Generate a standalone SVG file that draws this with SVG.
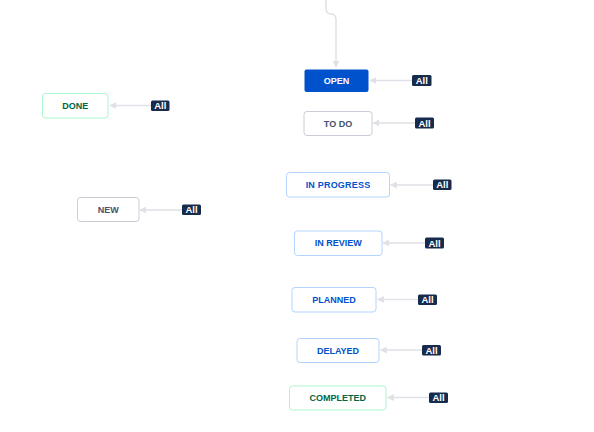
<svg xmlns="http://www.w3.org/2000/svg" width="594" height="432" viewBox="0 0 594 432">
<style>
.n{stroke-width:1;rx:3;ry:3}
.g{fill:#fff;stroke:#C9CED6}
.b{fill:#fff;stroke:#B3D4FF}
.gr{fill:#fff;stroke:#ABF5D1}
.t{font-family:"Liberation Sans",Arial,sans-serif;font-size:9px;font-weight:bold;text-anchor:middle;dominant-baseline:central}
.tg{fill:#42526E}.tb{fill:#0052CC}.tgr{fill:#006644}
.badge{fill:#172B4D}
.bt{font-family:"Liberation Sans",Arial,sans-serif;font-size:9.5px;font-weight:bold;fill:#fff;text-anchor:middle;dominant-baseline:central}
.c{stroke:#DFE1E6;stroke-width:1.5;fill:none}
</style>
<defs>
<marker id="ah" viewBox="0 0 10 10" refX="9" refY="5" markerWidth="7" markerHeight="7" markerUnits="userSpaceOnUse" orient="auto">
<path d="M0,0L10,5L0,10z" fill="#DFE1E6"/>
</marker>
</defs>
<g id="connectors">
<path class="c" d="M326,0V8Q326,14 331,14Q336,14 336,20V67" marker-end="url(#ah)"/>
<path class="c" d="M412,80.5H370" marker-end="url(#ah)"/>
<path class="c" d="M415,123H373" marker-end="url(#ah)"/>
<path class="c" d="M151,105.5H110" marker-end="url(#ah)"/>
<path class="c" d="M182,210H140" marker-end="url(#ah)"/>
<path class="c" d="M433,185H390.5" marker-end="url(#ah)"/>
<path class="c" d="M425,243H383" marker-end="url(#ah)"/>
<path class="c" d="M418,299.5H377.5" marker-end="url(#ah)"/>
<path class="c" d="M422,350H380.5" marker-end="url(#ah)"/>
<path class="c" d="M429,397.5H387.5" marker-end="url(#ah)"/>
</g>
<g id="open">
<rect x="304.5" y="69.5" width="64" height="22.5" rx="2" fill="#0052CC"/>
<text class="t" x="336.5" y="81" fill="#fff">OPEN</text>
</g>
<g id="todo">
<rect class="n g" x="304" y="111.5" width="68" height="24"/>
<text class="t tg" x="338" y="123.5">TO DO</text>
</g>
<g id="done">
<rect class="n gr" x="42.5" y="93.5" width="65.5" height="24.5"/>
<text class="t tgr" x="75.25" y="106">DONE</text>
</g>
<g id="new">
<rect class="n g" x="77.5" y="197.5" width="61.5" height="24"/>
<text class="t tg" x="108.25" y="209.5">NEW</text>
</g>
<g id="inprogress">
<rect class="n b" x="286.5" y="172.5" width="103" height="24.5"/>
<text class="t tb" x="338" y="185" letter-spacing="0.2">IN PROGRESS</text>
</g>
<g id="inreview">
<rect class="n b" x="294.5" y="231" width="87.5" height="24.5"/>
<text class="t tb" x="338.25" y="243.25">IN REVIEW</text>
</g>
<g id="planned">
<rect class="n b" x="292" y="287.5" width="84" height="24.5"/>
<text class="t tb" x="334" y="299.75">PLANNED</text>
</g>
<g id="delayed">
<rect class="n b" x="297" y="338.5" width="82" height="24"/>
<text class="t tb" x="338" y="350.5">DELAYED</text>
</g>
<g id="completed">
<rect class="n gr" x="289.5" y="386" width="96.5" height="24"/>
<text class="t tgr" x="337.75" y="398">COMPLETED</text>
</g>
<g id="badges">
<rect class="badge" x="412" y="75" width="19.5" height="11" rx="1.5"/><text class="bt" x="421.75" y="80.5">All</text>
<rect class="badge" x="415" y="117.5" width="19" height="11" rx="1.5"/><text class="bt" x="424.5" y="123">All</text>
<rect class="badge" x="151" y="100.5" width="18.5" height="10.5" rx="1.5"/><text class="bt" x="160.25" y="105.75">All</text>
<rect class="badge" x="182" y="204.5" width="19" height="10.5" rx="1.5"/><text class="bt" x="191.5" y="209.75">All</text>
<rect class="badge" x="433" y="179.5" width="18.5" height="10.5" rx="1.5"/><text class="bt" x="442.25" y="184.75">All</text>
<rect class="badge" x="425" y="237.5" width="19" height="11" rx="1.5"/><text class="bt" x="434.5" y="243">All</text>
<rect class="badge" x="418" y="294.5" width="19" height="10.5" rx="1.5"/><text class="bt" x="427.5" y="299.75">All</text>
<rect class="badge" x="422" y="345" width="19" height="10.5" rx="1.5"/><text class="bt" x="431.5" y="350.25">All</text>
<rect class="badge" x="429" y="392.5" width="19" height="10.5" rx="1.5"/><text class="bt" x="438.5" y="397.75">All</text>
</g>
</svg>
